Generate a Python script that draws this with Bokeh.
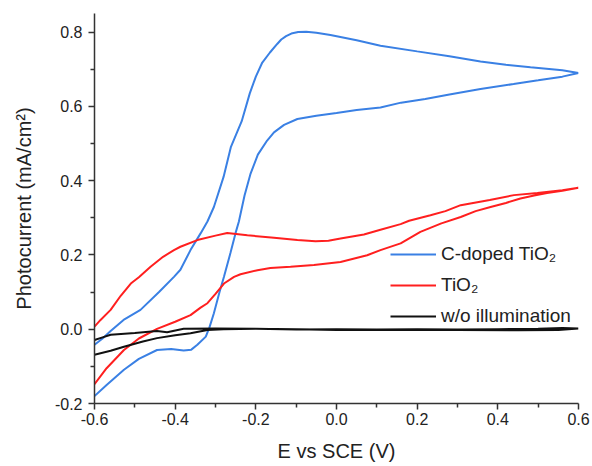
from bokeh.plotting import figure
from bokeh.models import Range1d, FixedTicker, Legend, LegendItem
from bokeh.embed import file_html
from bokeh.resources import INLINE

# ---- data ----
cdoped_x = [-0.600, -0.570, -0.527, -0.490, -0.445, -0.410, -0.379, -0.360, -0.345, -0.324,
            -0.315, -0.304, -0.290, -0.279, -0.263, -0.250, -0.242, -0.228, -0.213, -0.195,
            -0.172, -0.155, -0.130, -0.097, -0.050, 0.000, 0.050, 0.109, 0.160, 0.220,
            0.280, 0.357, 0.439, 0.500, 0.560, 0.600,
            0.560, 0.481, 0.420, 0.357, 0.280, 0.200, 0.109, 0.050, -0.015, -0.050,
            -0.075, -0.095, -0.112, -0.125, -0.137, -0.147, -0.165, -0.184, -0.200, -0.215,
            -0.235, -0.262, -0.280, -0.304, -0.320, -0.337, -0.362, -0.387, -0.403, -0.440,
            -0.486, -0.528, -0.560, -0.580, -0.600]
cdoped_y = [-0.180, -0.150, -0.109, -0.080, -0.056, -0.053, -0.057, -0.055, -0.042, -0.020,
            0.005, 0.043, 0.100, 0.141, 0.205, 0.260, 0.290, 0.360, 0.419, 0.470,
            0.508, 0.530, 0.550, 0.566, 0.575, 0.582, 0.590, 0.597, 0.610, 0.620,
            0.632, 0.647, 0.660, 0.670, 0.680, 0.690,
            0.697, 0.705, 0.712, 0.721, 0.735, 0.748, 0.763, 0.778, 0.792, 0.798,
            0.801, 0.800, 0.796, 0.789, 0.780, 0.768, 0.745, 0.718, 0.680, 0.635,
            0.560, 0.490, 0.410, 0.329, 0.290, 0.258, 0.213, 0.160, 0.141, 0.100,
            0.052, 0.025, -0.005, -0.025, -0.042]

tio2_x = [-0.600, -0.570, -0.527, -0.490, -0.445, -0.400, -0.362, -0.337, -0.320, -0.300,
          -0.279, -0.254, -0.238, -0.196, -0.164, -0.114, -0.056, 0.010, 0.076, 0.109,
          0.159, 0.208, 0.260, 0.308, 0.345, 0.382, 0.420, 0.456, 0.490, 0.522,
          0.560, 0.600,
          0.560, 0.498, 0.440, 0.380, 0.308, 0.270, 0.233, 0.180, 0.159, 0.109,
          0.068, 0.010, -0.020, -0.052, -0.097, -0.155, -0.221, -0.271, -0.300, -0.345,
          -0.387, -0.403, -0.430, -0.461, -0.490, -0.510, -0.535, -0.560, -0.585, -0.600]
tio2_y = [-0.148, -0.105, -0.056, -0.025, 0.001, 0.020, 0.038, 0.058, 0.070, 0.095,
          0.123, 0.141, 0.148, 0.159, 0.165, 0.168, 0.173, 0.181, 0.199, 0.213,
          0.231, 0.262, 0.285, 0.302, 0.318, 0.329, 0.340, 0.352, 0.360, 0.367,
          0.373, 0.381,
          0.374, 0.367, 0.361, 0.348, 0.334, 0.318, 0.307, 0.292, 0.283, 0.268,
          0.255, 0.244, 0.238, 0.237, 0.240, 0.246, 0.253, 0.259, 0.252, 0.240,
          0.222, 0.213, 0.195, 0.168, 0.140, 0.123, 0.090, 0.052, 0.025, 0.007]

dark_x = [-0.600, -0.560, -0.527, -0.480, -0.445, -0.400, -0.362, -0.320, -0.280, -0.200,
          -0.100, 0.000, 0.100, 0.200, 0.300, 0.400, 0.500, 0.560, 0.600,
          0.550, 0.450, 0.300, 0.200, 0.100, 0.000, -0.100, -0.200, -0.300, -0.379,
          -0.420, -0.445, -0.500, -0.560, -0.580, -0.600]
dark_y = [-0.069, -0.058, -0.047, -0.033, -0.024, -0.016, -0.011, -0.002, 0.000, 0.001,
          -0.001, 0.000, -0.001, 0.000, -0.001, 0.000, 0.001, 0.003, 0.002,
          -0.002, -0.003, -0.002, -0.002, -0.002, -0.002, 0.000, 0.001, 0.002, 0.001,
          -0.008, -0.005, -0.010, -0.015, -0.022, -0.029]

x_ticks = [-0.6, -0.4, -0.2, 0.0, 0.2, 0.4, 0.6]
x_tick_labels = ["-0.6", "-0.4", "-0.2", "0.0", "0.2", "0.4", "0.6"]
x_minor = [-0.5, -0.3, -0.1, 0.1, 0.3, 0.5]
y_ticks = [-0.2, 0.0, 0.2, 0.4, 0.6, 0.8]
y_tick_labels = ["-0.2", "0.0", "0.2", "0.4", "0.6", "0.8"]
y_minor = [-0.1, 0.1, 0.3, 0.5, 0.7]

series_labels = ["C-doped TiO\u2082", "TiO\u2082", "w/o illumination"]
series_colors = ["#3a80e4", "#ff1f1f", "#111111"]

FONT = "Liberation Sans"

p = figure(width=592, height=466, output_backend="svg", toolbar_location=None,
           x_range=Range1d(-0.6, 0.6), y_range=Range1d(-0.2, 0.85),
           min_border_left=94, min_border_right=14, min_border_top=13, min_border_bottom=63)
p.outline_line_color = None
p.grid.visible = False
p.background_fill_color = "white"

r1 = p.line(cdoped_x, cdoped_y, line_color=series_colors[0], line_width=2)
r2 = p.line(tio2_x, tio2_y, line_color=series_colors[1], line_width=2)
r3 = p.line(dark_x, dark_y, line_color=series_colors[2], line_width=2)

for ax, ticks, labels, minor in ((p.xaxis[0], x_ticks, x_tick_labels, x_minor),
                                 (p.yaxis[0], y_ticks, y_tick_labels, y_minor)):
    ax.ticker = FixedTicker(ticks=ticks, minor_ticks=minor)
    ax.major_label_overrides = {t: l for t, l in zip(ticks, labels)}
    ax.axis_line_color = "#333333"
    ax.axis_line_width = 1.5
    ax.major_tick_line_color = "#333333"
    ax.minor_tick_line_color = "#333333"
    ax.major_tick_line_width = 1.5
    ax.minor_tick_line_width = 1.5
    ax.major_tick_out = 6
    ax.major_tick_in = 0
    ax.minor_tick_out = 4
    ax.minor_tick_in = 0
    ax.major_label_text_font = FONT
    ax.major_label_text_font_size = "16px"
    ax.major_label_text_color = "#222222"
    ax.axis_label_text_font = FONT
    ax.axis_label_text_font_size = "20px"
    ax.axis_label_text_font_style = "normal"
    ax.axis_label_text_color = "#222222"

p.xaxis.axis_label = "E vs SCE (V)"
p.yaxis.axis_label = "Photocurrent (mA/cm\u00b2)"
p.xaxis.major_label_standoff = 3
p.xaxis.axis_label_standoff = 12
p.yaxis.major_label_standoff = 6
p.yaxis.axis_label_standoff = 17

legend = Legend(items=[LegendItem(label=series_labels[0], renderers=[r1]),
                       LegendItem(label=series_labels[1], renderers=[r2]),
                       LegendItem(label=series_labels[2], renderers=[r3])],
                location=(296, 76))
legend.border_line_color = None
legend.background_fill_alpha = 0
legend.label_text_font = FONT
legend.label_text_font_size = "19px"
legend.label_text_color = "#222222"
legend.glyph_width = 46
legend.glyph_height = 20
legend.label_height = 20
legend.label_standoff = 5
legend.spacing = 9
legend.padding = 0
legend.margin = 0
p.add_layout(legend)

open("out.html", "w").write(file_html(p, INLINE))
